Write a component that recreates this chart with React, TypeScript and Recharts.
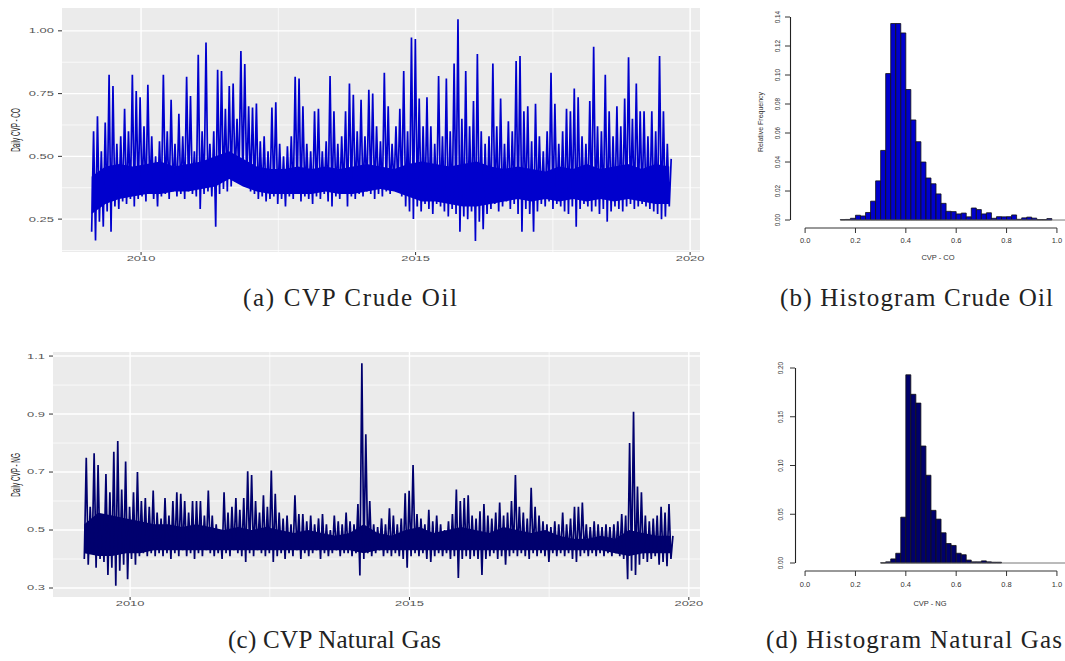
import React from 'react';
import { ComposedChart, Line, Area, XAxis, YAxis, CartesianGrid, BarChart, Bar, ReferenceLine } from 'recharts';

const coLow = [
  0.20, 0.165, 0.24, 0.22, 0.28, 0.20, 0.30, 0.29, 0.32, 0.31,
  0.33, 0.30, 0.33, 0.34, 0.32, 0.35, 0.33, 0.30, 0.34, 0.35,
  0.33, 0.36, 0.34, 0.35, 0.33, 0.36, 0.35, 0.34, 0.29, 0.35,
  0.36, 0.34, 0.22, 0.35, 0.37, 0.36, 0.38, 0.40, 0.41, 0.40,
  0.38, 0.36, 0.35, 0.33, 0.34, 0.32, 0.33, 0.34, 0.31, 0.33,
  0.30, 0.34, 0.33, 0.35, 0.32, 0.34, 0.33, 0.31, 0.34, 0.33,
  0.35, 0.32, 0.30, 0.34, 0.33, 0.35, 0.30, 0.34, 0.33, 0.35,
  0.34, 0.36, 0.35, 0.33, 0.35, 0.34, 0.36, 0.35, 0.37, 0.36,
  0.34, 0.30, 0.28, 0.25, 0.30, 0.28, 0.31, 0.29, 0.27, 0.31,
  0.30, 0.28, 0.26, 0.29, 0.27, 0.20, 0.26, 0.25, 0.28, 0.163,
  0.24, 0.21, 0.27, 0.29, 0.31, 0.28, 0.30, 0.32, 0.29, 0.31,
  0.27, 0.20, 0.29, 0.27, 0.20, 0.28, 0.31, 0.30, 0.32, 0.29,
  0.31, 0.30, 0.28, 0.27, 0.30, 0.22, 0.29, 0.31, 0.30, 0.28,
  0.30, 0.27, 0.29, 0.24, 0.28, 0.30, 0.29, 0.28, 0.30, 0.31,
  0.29, 0.30, 0.31, 0.30, 0.29, 0.28, 0.27, 0.25, 0.26, 0.30,
];
const coHigh = [
  0.60, 0.66, 0.52, 0.635, 0.825, 0.78, 0.55, 0.58, 0.69, 0.60,
  0.825, 0.76, 0.735, 0.62, 0.785, 0.58, 0.50, 0.56, 0.825, 0.60,
  0.725, 0.55, 0.67, 0.58, 0.817, 0.74, 0.52, 0.905, 0.60, 0.954,
  0.55, 0.60, 0.845, 0.84, 0.69, 0.78, 0.79, 0.65, 0.92, 0.868,
  0.70, 0.695, 0.71, 0.56, 0.58, 0.52, 0.695, 0.715, 0.55, 0.50,
  0.54, 0.58, 0.817, 0.81, 0.70, 0.55, 0.52, 0.68, 0.69, 0.52,
  0.56, 0.82, 0.68, 0.55, 0.58, 0.68, 0.79, 0.745, 0.60, 0.725,
  0.58, 0.765, 0.75, 0.62, 0.56, 0.833, 0.70, 0.55, 0.62, 0.69,
  0.84, 0.60, 0.973, 0.967, 0.73, 0.62, 0.735, 0.62, 0.55, 0.82,
  0.58, 0.81, 0.60, 0.87, 1.046, 0.65, 0.84, 0.62, 0.72, 0.908,
  0.60, 0.55, 0.58, 0.87, 0.62, 0.73, 0.55, 0.64, 0.60, 0.88,
  0.90, 0.68, 0.70, 0.56, 0.71, 0.58, 0.52, 0.60, 0.833, 0.71,
  0.55, 0.60, 0.69, 0.68, 0.77, 0.735, 0.58, 0.55, 0.72, 0.937,
  0.62, 0.60, 0.825, 0.68, 0.58, 0.70, 0.62, 0.73, 0.895, 0.65,
  0.79, 0.68, 0.68, 0.58, 0.68, 0.60, 0.90, 0.68, 0.55, 0.49,
];
// solid core of the band, every quarter
const coCoreLow = [
  0.27, 0.31, 0.33, 0.34, 0.35, 0.35, 0.36, 0.36, 0.37, 0.38, 0.41,
  0.38, 0.36, 0.35, 0.35, 0.35, 0.35, 0.36, 0.35, 0.35, 0.36, 0.37,
  0.36, 0.34, 0.32, 0.32, 0.31, 0.30, 0.30, 0.31, 0.32, 0.33, 0.32,
  0.33, 0.32, 0.33, 0.32, 0.33, 0.32, 0.33, 0.32, 0.31, 0.31,
];
const coCoreHigh = [
  0.42, 0.46, 0.47, 0.46, 0.47, 0.48, 0.46, 0.47, 0.48, 0.50, 0.52,
  0.49, 0.46, 0.45, 0.45, 0.46, 0.45, 0.46, 0.45, 0.46, 0.47, 0.46,
  0.45, 0.47, 0.48, 0.47, 0.46, 0.47, 0.48, 0.46, 0.45, 0.46, 0.45,
  0.44, 0.46, 0.45, 0.47, 0.45, 0.46, 0.47, 0.45, 0.47, 0.46,
];

const ngLow = [
  0.40, 0.38, 0.42, 0.37, 0.40, 0.39, 0.345, 0.37, 0.308, 0.36,
  0.38, 0.33, 0.40, 0.38, 0.41, 0.42, 0.41, 0.42, 0.41, 0.42,
  0.41, 0.42, 0.40, 0.42, 0.41, 0.43, 0.41, 0.42, 0.40, 0.42,
  0.41, 0.43, 0.42, 0.41, 0.42, 0.40, 0.42, 0.41, 0.43, 0.42,
  0.41, 0.39, 0.42, 0.41, 0.43, 0.42, 0.41, 0.42, 0.39, 0.41,
  0.42, 0.40, 0.42, 0.41, 0.43, 0.40, 0.42, 0.41, 0.42, 0.43,
  0.40, 0.42, 0.41, 0.42, 0.43, 0.41, 0.42, 0.42, 0.41, 0.42,
  0.343, 0.40, 0.42, 0.41, 0.42, 0.43, 0.41, 0.42, 0.41, 0.42,
  0.41, 0.40, 0.37, 0.41, 0.42, 0.41, 0.42, 0.40, 0.39, 0.41,
  0.42, 0.41, 0.42, 0.40, 0.41, 0.335, 0.40, 0.41, 0.40, 0.41,
  0.40, 0.345, 0.40, 0.41, 0.42, 0.40, 0.41, 0.38, 0.41, 0.42,
  0.41, 0.42, 0.41, 0.40, 0.42, 0.41, 0.42, 0.41, 0.39, 0.42,
  0.41, 0.42, 0.41, 0.42, 0.40, 0.39, 0.41, 0.42, 0.41, 0.42,
  0.41, 0.42, 0.41, 0.42, 0.41, 0.42, 0.41, 0.40, 0.33, 0.36,
  0.345, 0.38, 0.40, 0.39, 0.40, 0.41, 0.38, 0.39, 0.375, 0.40,
];
const ngHigh = [
  0.749, 0.58, 0.765, 0.724, 0.55, 0.693, 0.63, 0.77, 0.807, 0.64,
  0.736, 0.58, 0.63, 0.70, 0.60, 0.61, 0.58, 0.636, 0.56, 0.54,
  0.61, 0.55, 0.60, 0.63, 0.625, 0.60, 0.56, 0.60, 0.60, 0.60,
  0.55, 0.636, 0.55, 0.52, 0.50, 0.63, 0.56, 0.58, 0.61, 0.57,
  0.61, 0.703, 0.69, 0.60, 0.56, 0.62, 0.58, 0.705, 0.625, 0.56,
  0.54, 0.55, 0.52, 0.62, 0.555, 0.555, 0.53, 0.55, 0.52, 0.54,
  0.555, 0.52, 0.50, 0.55, 0.53, 0.52, 0.56, 0.53, 0.52, 0.59,
  1.075, 0.83, 0.60, 0.52, 0.51, 0.54, 0.52, 0.575, 0.55, 0.52,
  0.54, 0.627, 0.635, 0.724, 0.555, 0.54, 0.52, 0.57, 0.53, 0.55,
  0.52, 0.50, 0.53, 0.555, 0.64, 0.60, 0.61, 0.62, 0.55, 0.54,
  0.565, 0.59, 0.55, 0.54, 0.56, 0.595, 0.55, 0.56, 0.60, 0.69,
  0.58, 0.56, 0.54, 0.646, 0.58, 0.55, 0.53, 0.52, 0.51, 0.53,
  0.52, 0.56, 0.52, 0.54, 0.58, 0.58, 0.595, 0.52, 0.51, 0.53,
  0.52, 0.51, 0.52, 0.51, 0.52, 0.53, 0.555, 0.55, 0.80, 0.908,
  0.65, 0.63, 0.55, 0.53, 0.54, 0.55, 0.58, 0.56, 0.59, 0.48,
];
const ngCoreLow = [
  0.42, 0.41, 0.41, 0.42, 0.42, 0.43, 0.43, 0.43, 0.43, 0.43, 0.43,
  0.43, 0.43, 0.43, 0.43, 0.43, 0.43, 0.43, 0.43, 0.43, 0.42, 0.43,
  0.43, 0.43, 0.43, 0.43, 0.43, 0.43, 0.43, 0.43, 0.43, 0.43, 0.43,
  0.43, 0.43, 0.43, 0.43, 0.43, 0.42, 0.41, 0.42, 0.42, 0.42,
];
const ngCoreHigh = [
  0.52, 0.56, 0.55, 0.54, 0.53, 0.52, 0.52, 0.51, 0.52, 0.51, 0.50,
  0.51, 0.50, 0.51, 0.50, 0.49, 0.50, 0.49, 0.48, 0.49, 0.52, 0.49,
  0.48, 0.50, 0.51, 0.49, 0.50, 0.51, 0.50, 0.49, 0.51, 0.50, 0.49,
  0.50, 0.48, 0.47, 0.47, 0.48, 0.47, 0.50, 0.49, 0.48, 0.48,
];

const coSpan = [2009.1, 2019.62];
const ngSpan = [2009.18, 2019.68];
const yearTicks = [2010, 2015, 2020];
const yearMinor = [2012.5, 2017.5];

// histograms: relative frequency per 0.02 bin
const BIN = 0.02;
const coStart = 0.14;
const coFreq = [
  0.0003, 0.0004, 0.0012, 0.0033, 0.0028, 0.0052, 0.013, 0.027, 0.048, 0.101,
  0.1355, 0.1355, 0.129, 0.09, 0.069, 0.054, 0.04, 0.029, 0.025, 0.018,
  0.0115, 0.006, 0.0058, 0.0042, 0.0048, 0.0022, 0.0083, 0.0072, 0.0042, 0.005,
  0.0012, 0.0023, 0.0022, 0.0023, 0.0035, 0.0005, 0.0015, 0.002, 0.0013, 0.0003,
  0.0003, 0.001, 0, 0, 0,
];
const ngStart = 0.30;
const ngFreq = [
  0.0002, 0.0012, 0.0042, 0.01, 0.047, 0.193, 0.173, 0.164, 0.12, 0.09,
  0.054, 0.045, 0.031, 0.02, 0.018, 0.01, 0.0085, 0.003, 0.0012, 0.0012,
  0.0022, 0.0012, 0.0008, 0.0008, 0, 0, 0, 0, 0, 0,
  0, 0, 0, 0, 0, 0, 0,
];
const histTicks = [0, 0.2, 0.4, 0.6, 0.8, 1.0];
const coFreqTicks = [0, 0.02, 0.04, 0.06, 0.08, 0.1, 0.12, 0.14];
const ngFreqTicks = [0, 0.05, 0.1, 0.15, 0.2];

const zigzag = (low: number[], high: number[], span: number[]) => {
  const step = (span[1] - span[0]) / (low.length - 1);
  const rows: { t: number; v: number }[] = [];
  low.forEach((v, i) => {
    const t = span[0] + i * step;
    rows.push({ t, v });
    rows.push({ t: t + step / 2, v: high[i] });
  });
  return rows;
};

const coreRows = (low: number[], high: number[], span: number[]) => {
  const step = (span[1] - span[0]) / (low.length - 1);
  return low.map((v, i) => ({ t: span[0] + i * step, band: [v, high[i]] }));
};

const binRows = (first: number, last: number, start: number, freq: number[]) => {
  const rows: { bin: string; mid: number; freq: number | null }[] = [];
  const n = Math.round((last - first) / BIN);
  for (let k = 0; k < n; k++) {
    const lo = first + k * BIN;
    const j = Math.round((lo - start) / BIN);
    rows.push({ bin: lo.toFixed(2), mid: lo + BIN / 2, freq: j >= 0 && j < freq.length ? freq[j] : null });
  }
  return rows;
};

const coSeries = zigzag(coLow, coHigh, coSpan);
const ngSeries = zigzag(ngLow, ngHigh, ngSpan);
const coCore = coreRows(coCoreLow, coCoreHigh, coSpan);
const ngCore = coreRows(ngCoreLow, ngCoreHigh, ngSpan);

const SANS = '"Liberation Sans", Arial, sans-serif';

const GgTickY = (props: any) => {
  const { x, y, payload, digits } = props;
  return (
    <text transform={`translate(${x},${y}) scale(1.85,1)`} textAnchor="end" dy="0.35em"
      fontSize={7} fill="#555" fontFamily={SANS}>
      {Number(payload.value).toFixed(digits)}
    </text>
  );
};

const GgTickX = (props: any) => {
  const { x, y, payload } = props;
  return (
    <text transform={`translate(${x},${y}) scale(1.85,1)`} textAnchor="middle" dy="0.71em"
      fontSize={7} fill="#555" fontFamily={SANS}>
      {payload.value}
    </text>
  );
};

const RTickY = (props: any) => {
  const { x, y, payload } = props;
  return (
    <text transform={`translate(${x},${y}) scale(1.25,1) rotate(-90)`} textAnchor="middle"
      fontSize={6.3} fill="#333" fontFamily={SANS}>
      {Number(payload.value).toFixed(2)}
    </text>
  );
};

const RTickX = (props: any) => {
  const { x, y, payload } = props;
  return (
    <text x={x} y={y} textAnchor="middle" dy="0.71em" fontSize={7.5} fill="#333" fontFamily={SANS}>
      {Number(payload.value).toFixed(1)}
    </text>
  );
};

interface SeriesProps {
  data: { t: number; v: number }[];
  core: { t: number; band: number[] }[];
  color: string;
  width: number;
  height: number;
  margin: { top: number; right: number; bottom: number; left: number };
  yWidth: number;
  yDomain: number[];
  yTicks: number[];
  yMinor: number[];
  digits: number;
  xDomain: number[];
}

const SeriesPanel = ({ data, core, color, width, height, margin, yWidth, yDomain, yTicks, yMinor, digits, xDomain }: SeriesProps) => (
  <ComposedChart width={width} height={height} data={data} margin={margin}>
    <CartesianGrid fill="#EBEBEB" stroke="#FFFFFF" strokeWidth={0.7}
      horizontalValues={yMinor} verticalValues={yearMinor} />
    <CartesianGrid stroke="#FFFFFF" strokeWidth={1.4}
      horizontalValues={yTicks} verticalValues={yearTicks} />
    <XAxis dataKey="t" type="number" domain={xDomain} ticks={yearTicks} allowDataOverflow
      axisLine={false} tickSize={3} tickMargin={1} stroke="#333" height={15} tick={<GgTickX />} />
    <YAxis type="number" domain={yDomain} ticks={yTicks} allowDataOverflow width={yWidth}
      axisLine={false} tickSize={4} tickMargin={4} stroke="#333" tick={<GgTickY digits={digits} />} />
    <Area data={core} dataKey="band" type="linear" stroke="none" fill={color} fillOpacity={1}
      isAnimationActive={false} />
    <Line dataKey="v" type="linear" stroke={color} strokeWidth={1.7} dot={false} isAnimationActive={false} />
  </ComposedChart>
);

interface HistProps {
  rows: { bin: string; mid: number; freq: number | null }[];
  color: string;
  width: number;
  height: number;
  margin: { top: number; right: number; bottom: number; left: number };
  xDomain: number[];
  yDomain: number[];
  yTicks: number[];
  dataFrom: number;
  tickGapY: number;
  tickGapX: number;
}

const HistPanel = ({ rows, color, width, height, margin, xDomain, yDomain, yTicks, dataFrom, tickGapY, tickGapX }: HistProps) => (
  <BarChart width={width} height={height} data={rows} margin={margin} barCategoryGap={0} barGap={0}>
    <XAxis xAxisId="bins" dataKey="bin" type="category" hide height={0} />
    <XAxis xAxisId="num" dataKey="mid" type="number" domain={xDomain} ticks={histTicks} allowDataOverflow
      axisLine={false} tickSize={5} tickMargin={tickGapX} stroke="#333" height={30} tick={<RTickX />} />
    <YAxis type="number" domain={yDomain} ticks={yTicks} allowDataOverflow width={40}
      axisLine={false} tickSize={5} tickMargin={tickGapY} stroke="#333" tick={<RTickY />} />
    <Bar xAxisId="bins" dataKey="freq" fill={color} stroke="#111" strokeWidth={0.8} isAnimationActive={false} />
    <ReferenceLine xAxisId="num" stroke="#666" strokeWidth={0.9} ifOverflow="visible"
      segment={[{ x: dataFrom, y: 0 }, { x: xDomain[1], y: 0 }]} />
    <ReferenceLine xAxisId="num" stroke="#222" strokeWidth={1.1} ifOverflow="visible"
      segment={[{ x: xDomain[0] + 0.002, y: 0 }, { x: xDomain[0] + 0.002, y: yTicks[yTicks.length - 1] }]} />
    <ReferenceLine xAxisId="num" stroke="#333" strokeWidth={1} ifOverflow="visible"
      segment={[{ x: 0, y: yDomain[0] }, { x: 1, y: yDomain[0] }]} />
  </BarChart>
);

const SERIF = '"Liberation Serif", "Times New Roman", serif';

export default function App() {
  return (
    <div style={{ position: 'absolute', left: 0, top: 0, width: 1065, height: 661, overflow: 'hidden', background: '#fff' }}>
      <div style={{ position: 'absolute', left: 0, top: 0 }}>
        <SeriesPanel data={coSeries} core={coCore} color="#0000CD" width={710} height={275}
          margin={{ top: 8, right: 10, bottom: 8, left: 12 }} yWidth={50}
          yDomain={[0.119, 1.091]} yTicks={[0.25, 0.5, 0.75, 1.0]} yMinor={[0.125, 0.375, 0.625, 0.875]}
          digits={2} xDomain={[2008.56, 2020.18]} />
      </div>
      <div style={{ position: 'absolute', left: 0, top: 330 }}>
        <SeriesPanel data={ngSeries} core={ngCore} color="#00006E" width={710} height={290}
          margin={{ top: 22, right: 10, bottom: 8, left: 8 }} yWidth={45}
          yDomain={[0.269, 1.114]} yTicks={[0.3, 0.5, 0.7, 0.9, 1.1]} yMinor={[0.4, 0.6, 0.8, 1.0]}
          digits={1} xDomain={[2008.62, 2020.2]} />
      </div>
      <div style={{ position: 'absolute', left: 740, top: 0 }}>
        <HistPanel rows={binRows(-0.06, 1.04, coStart, coFreq)} color="#0000CD" width={327} height={275}
          margin={{ top: 17, right: 0, bottom: 17, left: 10 }} xDomain={[-0.06, 1.04]}
          yDomain={[-0.0055, 0.14]} yTicks={coFreqTicks} dataFrom={coStart} tickGapY={5} tickGapX={5} />
      </div>
      <div style={{ position: 'absolute', left: 740, top: 330 }}>
        <HistPanel rows={binRows(-0.04, 1.04, ngStart, ngFreq)} color="#00006B" width={327} height={290}
          margin={{ top: 38, right: 0, bottom: 19, left: 15 }} xDomain={[-0.04, 1.04]}
          yDomain={[-0.0082, 0.2]} yTicks={ngFreqTicks} dataFrom={ngStart} tickGapY={7} tickGapX={6} />
      </div>
      <svg width={1065} height={661} style={{ position: 'absolute', left: 0, top: 0, pointerEvents: 'none' }}>
        <text transform="translate(19.5,130) scale(1.9,1) rotate(-90)" textAnchor="middle" fontSize={6.3}
          fill="#222" fontFamily={SANS}>Daily CVP - CO</text>
        <text transform="translate(19.5,475) scale(1.9,1) rotate(-90)" textAnchor="middle" fontSize={6.3}
          fill="#222" fontFamily={SANS}>Daily CVP - NG</text>
        <text transform="translate(763,122) scale(1.15,1) rotate(-90)" textAnchor="middle" fontSize={7}
          fill="#333" fontFamily={SANS}>Relative Frequency</text>
        <text x={938} y={260} textAnchor="middle" fontSize={7.5} fill="#333" fontFamily={SANS}>CVP - CO</text>
        <text x={930} y={606} textAnchor="middle" fontSize={7.5} fill="#333" fontFamily={SANS}>CVP - NG</text>
        <text x={243} y={306} fontSize={25} fill="#222" fontFamily={SERIF} textLength={214} lengthAdjust="spacing">(a) CVP Crude Oil</text>
        <text x={780} y={306} fontSize={25} fill="#222" fontFamily={SERIF} textLength={273} lengthAdjust="spacing">(b) Histogram Crude Oil</text>
        <text x={228} y={648} fontSize={25} fill="#222" fontFamily={SERIF} textLength={213} lengthAdjust="spacing">(c) CVP Natural Gas</text>
        <text x={766} y={648} fontSize={25} fill="#222" fontFamily={SERIF} textLength={296} lengthAdjust="spacing">(d) Histogram Natural Gas</text>
      </svg>
    </div>
  );
}
